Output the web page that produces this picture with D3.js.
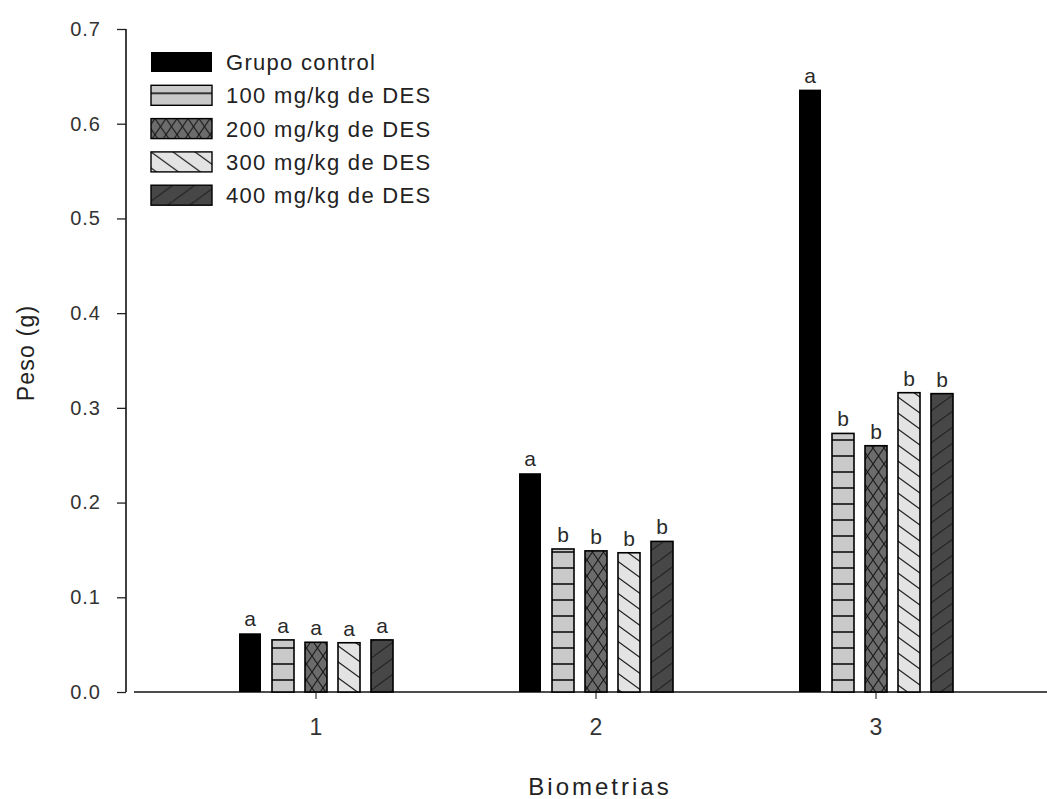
<!DOCTYPE html>
<html>
<head>
<meta charset="utf-8">
<script src="https://cdn.jsdelivr.net/npm/d3@7"></script>
<style>
  html, body { margin: 0; padding: 0; background: #fff; }
  svg { display: block; font-family: "Liberation Sans", Arial, sans-serif; }
</style>
</head>
<body>
<div id="chart"></div>
<script>
// data
const groups = ["1", "2", "3"];
const series = ["Grupo control", "100 mg/kg de DES", "200 mg/kg de DES", "300 mg/kg de DES", "400 mg/kg de DES"];
const values = [
  [0.062, 0.231, 0.636],   // Grupo control
  [0.055, 0.151, 0.273],   // 100
  [0.0525, 0.149, 0.260],  // 200
  [0.052, 0.147, 0.316],   // 300
  [0.055, 0.159, 0.315]    // 400
];
const letters = [
  ["a", "a", "a"],
  ["a", "b", "b"],
  ["a", "b", "b"],
  ["a", "b", "b"],
  ["a", "b", "b"]
];
const yTicks = [0, 0.1, 0.2, 0.3, 0.4, 0.5, 0.6, 0.7];

const width = 1047, height = 799;
const svg = d3.select('#chart').append('svg')
  .attr('width', width)
  .attr('height', height);

// patterns
const defs = svg.append('defs');
const fills = ["#000", "url(#p100)", "url(#p200)", "url(#p300)", "url(#p400)"];

const p100 = defs.append('pattern').attr('id', 'p100')
  .attr('patternUnits', 'userSpaceOnUse').attr('width', 22).attr('height', 16);
p100.append('rect').attr('width', 22).attr('height', 16).attr('fill', '#c9c9c9');
p100.append('line').attr('x1', 0).attr('x2', 22).attr('y1', 8).attr('y2', 8)
  .attr('stroke', '#111').attr('stroke-width', 1.6);

const p200 = defs.append('pattern').attr('id', 'p200')
  .attr('patternUnits', 'userSpaceOnUse').attr('width', 11).attr('height', 16)
  .attr('x', 4);
p200.append('rect').attr('width', 11).attr('height', 16).attr('fill', '#6c6c6c');
p200.append('path').attr('d', 'M0,0 L11,16 M11,0 L0,16')
  .attr('stroke', '#1a1a1a').attr('stroke-width', 1.1).attr('fill', 'none');

const p300 = defs.append('pattern').attr('id', 'p300')
  .attr('patternUnits', 'userSpaceOnUse').attr('width', 22).attr('height', 16);
p300.append('rect').attr('width', 22).attr('height', 16).attr('fill', '#e3e3e3');
p300.append('path').attr('d', 'M-22,-16 L22,16 M0,-16 L44,16 M-22,0 L22,32')
  .attr('stroke', '#222').attr('stroke-width', 1.2).attr('fill', 'none');

const p400 = defs.append('pattern').attr('id', 'p400')
  .attr('patternUnits', 'userSpaceOnUse').attr('width', 22).attr('height', 16);
p400.append('rect').attr('width', 22).attr('height', 16).attr('fill', '#474747');
p400.append('path').attr('d', 'M-22,16 L22,-16 M0,16 L44,-16 M-22,32 L22,0')
  .attr('stroke', '#262626').attr('stroke-width', 1.4).attr('fill', 'none');

// scales
const y = d3.scaleLinear().domain([0, 0.7]).range([692, 29]);
const x = d3.scaleBand().domain(groups).range([176, 1016]).padding(0);
const xInner = d3.scaleBand().domain(d3.range(series.length))
  .range([x.bandwidth() / 2 - 82.5, x.bandwidth() / 2 + 82.5])
  .paddingInner(1 / 3).paddingOuter(1 / 6);

// y axis
const yAxis = svg.append('g').attr('transform', 'translate(126,0)')
  .call(d3.axisLeft(y).tickValues(yTicks).tickFormat(d3.format('.1f')).tickSize(9).tickPadding(16));
yAxis.select('.domain').attr('d', `M0,${y(0.7)}V${y(0)}`).attr('stroke', '#111').attr('stroke-width', 1.6);
yAxis.selectAll('.tick line').attr('stroke', '#222').attr('stroke-width', 1.3);
yAxis.selectAll('.tick text').attr('font-size', 20).attr('letter-spacing', 1)
  .attr('fill', '#333').attr('font-family', '"Liberation Sans", Arial, sans-serif');

// x axis
const xAxis = svg.append('g').attr('transform', 'translate(0,692)')
  .call(d3.axisBottom(x).tickSize(7).tickPadding(20));
xAxis.select('.domain').attr('d', 'M134,0H1047').attr('stroke', '#111').attr('stroke-width', 1.6);
xAxis.selectAll('.tick line').attr('stroke', '#333').attr('stroke-width', 1.2);
xAxis.selectAll('.tick text').attr('font-size', 23).attr('fill', '#333')
  .attr('font-family', '"Liberation Sans", Arial, sans-serif');

// bars
const barsG = svg.append('g');
series.forEach((s, si) => {
  const g = barsG.append('g');
  g.selectAll('rect')
    .data(groups)
    .join('rect')
    .attr('x', (d) => x(d) + xInner(si))
    .attr('y', (d, gi) => y(values[si][gi]))
    .attr('width', xInner.bandwidth())
    .attr('height', (d, gi) => y(0) - y(values[si][gi]))
    .attr('fill', fills[si])
    .attr('stroke', '#000')
    .attr('stroke-width', si === 0 ? 0 : 1.6);

  g.selectAll('text')
    .data(groups)
    .join('text')
    .attr('x', (d) => x(d) + xInner(si) + xInner.bandwidth() / 2)
    .attr('y', (d, gi) => y(values[si][gi]) - 7)
    .attr('text-anchor', 'middle')
    .attr('font-size', 21)
    .attr('fill', '#2a2a2a')
    .text((d, gi) => letters[si][gi]);
});

// legend
const legend = svg.append('g').attr('transform', 'translate(151,52)');
const row = legend.selectAll('g').data(series).join('g')
  .attr('transform', (d, i) => `translate(0,${i * 33.3})`);
row.append('rect')
  .attr('width', 61).attr('height', 20)
  .attr('fill', (d, i) => fills[i])
  .attr('stroke', '#000')
  .attr('stroke-width', (d, i) => i === 0 ? 0 : 1.4);
row.append('text')
  .attr('x', 75).attr('y', 18)
  .attr('font-size', 22)
  .attr('letter-spacing', 1.3)
  .attr('fill', '#222')
  .text(d => d);

// axis titles
svg.append('text')
  .attr('transform', 'translate(34,353) rotate(-90)')
  .attr('text-anchor', 'middle')
  .attr('font-size', 23)
  .attr('letter-spacing', 1.2)
  .attr('fill', '#222')
  .text('Peso (g)');

svg.append('text')
  .attr('x', 600).attr('y', 795)
  .attr('text-anchor', 'middle')
  .attr('font-size', 24)
  .attr('letter-spacing', 3)
  .attr('fill', '#222')
  .text('Biometrias');
</script>
</body>
</html>
